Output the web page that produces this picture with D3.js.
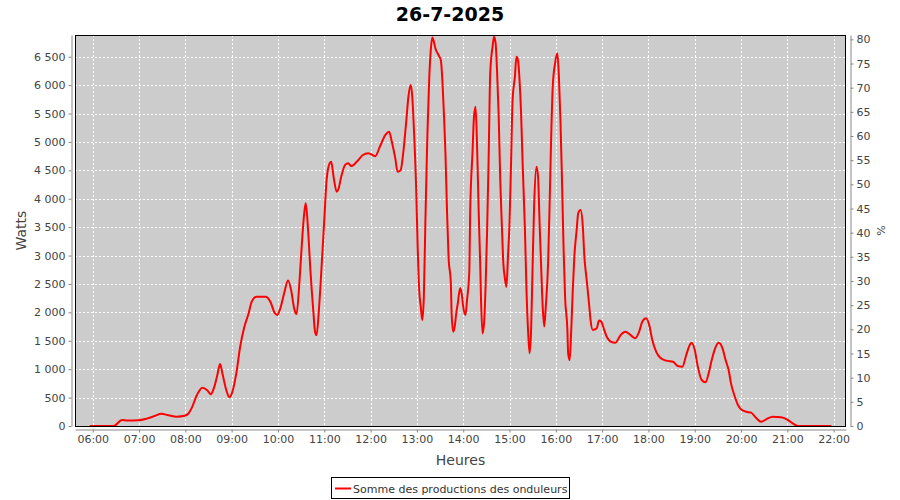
<!DOCTYPE html>
<html>
<head>
<meta charset="utf-8">
<script src="https://cdn.jsdelivr.net/npm/d3@7/dist/d3.min.js"></script>
<style>
  html, body { margin: 0; padding: 0; background: #fff; }
  svg { display: block; }
  .tick text { font-family: "DejaVu Sans", sans-serif; font-size: 11px; fill: #444; }
</style>
</head>
<body>
<svg id="chart" width="900" height="500"></svg>
<script>
// ---- Data ----
const title = "26-7-2025";
const seriesName = "Somme des productions des onduleurs";
const xTickLabels = ["06:00","07:00","08:00","09:00","10:00","11:00","12:00","13:00","14:00","15:00","16:00","17:00","18:00","19:00","20:00","21:00","22:00"];
const wattTicks = [0,500,1000,1500,2000,2500,3000,3500,4000,4500,5000,5500,6000,6500];
const pctTicks = [0,5,10,15,20,25,30,35,40,45,50,55,60,65,70,75,80];
const times = [
 "05:56","06:27","06:38","06:45","06:59","07:10","07:20","07:29","07:38","07:49","07:59",
 "08:04","08:08","08:15","08:22","08:28","08:33","08:36","08:41","08:45","08:48","08:53","08:57",
 "09:01","09:06","09:11","09:16","09:22","09:26","09:32","09:44","09:50","09:56","09:59",
 "10:03","10:08","10:13","10:17","10:21","10:24","10:28","10:31","10:34","10:36","10:39","10:42","10:46","10:48","10:50","10:53","10:57",
 "11:00","11:03","11:07","11:09","11:12","11:16","11:18","11:22","11:27","11:31","11:35","11:42","11:50","11:57",
 "12:06","12:12","12:19","12:24","12:27","12:32","12:35","12:39","12:42","12:46","12:49","12:52","12:54","12:56","12:59",
 "13:01","13:03","13:05","13:07","13:09","13:11","13:13","13:14","13:16","13:18","13:20","13:22","13:24","13:28","13:31","13:33","13:35","13:37","13:39","13:41","13:44","13:45","13:47","13:49","13:51","13:53","13:56","13:58",
 "14:00","14:03","14:05","14:08","14:09","14:12","14:14","14:16","14:18","14:20","14:22","14:23","14:25","14:27","14:29","14:31","14:33","14:35","14:38","14:40","14:42","14:44","14:46","14:48","14:50","14:52","14:54","14:56","14:58",
 "15:00","15:02","15:04","15:07","15:09","15:11","15:13","15:15","15:17","15:20","15:22","15:24","15:26","15:28","15:30","15:32","15:35","15:37","15:39","15:41","15:43","15:45","15:47","15:50","15:52","15:54","15:56","15:59",
 "16:02","16:04","16:06","16:08","16:10","16:12","16:15","16:16","16:18","16:20","16:22","16:24","16:27","16:29","16:32","16:35","16:37","16:40","16:43","16:45","16:48","16:53","16:56","16:59",
 "17:02","17:06","17:11","17:17","17:24","17:30","17:37","17:43","17:48","17:52","17:57",
 "18:01","18:05","18:10","18:15","18:23","18:32","18:38","18:44","18:49","18:53","18:56",
 "19:00","19:04","19:09","19:14","19:18","19:22","19:26","19:31","19:36","19:40","19:44","19:47","19:52","19:56",
 "20:00","20:07","20:13","20:20","20:26","20:33","20:41","20:52",
 "21:01","21:07","21:14","21:57"
];
const watts = [
 0,0,105,95,100,130,175,215,190,165,180,
 220,310,545,675,635,560,630,870,1090,925,635,505,
 605,925,1395,1720,1985,2190,2275,2275,2190,1985,1955,
 2070,2335,2560,2395,2070,1970,2570,3215,3745,3920,3450,2745,1985,1660,1600,2040,2920,
 3625,4330,4625,4650,4390,4125,4155,4390,4595,4625,4575,4650,4770,4800,
 4750,4915,5120,5180,5035,4710,4475,4505,4770,5330,5795,6000,5795,5270,4210,
 3155,2395,2100,1865,2275,3600,4800,5300,6120,6620,6840,6765,6645,6530,6440,6090,5505,4800,3800,2980,2510,1985,1660,1750,1985,2160,2425,2335,
 2100,1955,2220,2745,3745,4800,5445,5620,4915,3800,2865,2275,1630,1805,2450,3450,4740,6205,6675,6850,6735,6205,5445,4330,3565,2865,2600,2450,2980,
 3565,4625,5740,6150,6500,6440,6090,5505,4625,3450,2395,1690,1280,1690,2865,3920,4565,4390,3565,2805,2100,1750,2100,2865,3920,5090,5970,6380,
 6560,6150,5385,4330,3155,2275,1690,1280,1160,1690,2395,2980,3450,3745,3800,3510,2980,2570,2160,1865,1690,1720,1855,1835,
 1720,1570,1485,1465,1600,1660,1600,1545,1660,1835,1895,
 1780,1515,1310,1205,1150,1130,1055,1045,1250,1410,1465,
 1340,1045,810,770,925,1160,1350,1465,1365,1160,980,750,515,370,
 295,250,235,135,75,120,165,155,
 105,45,0,0
];

// ---- Layout ----
const svg = d3.select("#chart");
const plot = { left: 75, top: 35, right: 846, bottom: 426 };
const font = '"DejaVu Sans", sans-serif';
const parse = s => { const [h, m] = s.split(":").map(Number); return h * 60 + m; };

const x = d3.scaleLinear().domain([parse("05:37"), parse("22:16")]).range([plot.left, plot.right]);
const y = d3.scaleLinear().domain([0, 6882]).range([plot.bottom, plot.top]);
const yR = d3.scaleLinear().domain([0, 80.9]).range([plot.bottom, plot.top]);

svg.append("rect").attr("width", 900).attr("height", 500).attr("fill", "#fff");

// plot background
svg.append("rect")
  .attr("x", plot.left).attr("y", plot.top)
  .attr("width", plot.right - plot.left).attr("height", plot.bottom - plot.top)
  .attr("fill", "#cccccc");

// gridlines
const grid = svg.append("g").attr("stroke", "#fff").attr("stroke-width", 1).attr("stroke-dasharray", "2,2").attr("shape-rendering", "crispEdges");
grid.selectAll("line.v").data(xTickLabels).join("line")
  .attr("x1", d => Math.round(x(parse(d))) + 0.5).attr("x2", d => Math.round(x(parse(d))) + 0.5)
  .attr("y1", plot.top).attr("y2", plot.bottom);
grid.selectAll("line.h").data(wattTicks.filter(d => d > 0)).join("line")
  .attr("y1", d => Math.round(y(d)) + 0.5).attr("y2", d => Math.round(y(d)) + 0.5)
  .attr("x1", plot.left).attr("x2", plot.right);

// line
const data = times.map((t, i) => ({ t: parse(t), v: watts[i] }));
svg.append("path").datum(data)
  .attr("fill", "none").attr("stroke", "#ff0000").attr("stroke-width", 2)
  .attr("d", d3.line().x(d => x(d.t)).y(d => y(d.v)).curve(d3.curveMonotoneX));

// plot border
svg.append("rect")
  .attr("x", plot.left + 0.5).attr("y", plot.top + 0.5)
  .attr("width", plot.right - plot.left - 1).attr("height", plot.bottom - plot.top)
  .attr("fill", "none").attr("stroke", "#000").attr("stroke-width", 1);

// axes
const axisColor = "#888";
const gL = svg.append("g").attr("transform", "translate(71.5,0)")
  .call(d3.axisLeft(y).tickValues(wattTicks).tickSizeInner(3).tickSizeOuter(0).tickPadding(3)
    .tickFormat(d => d3.format(",")(d).replace(/,/g, "\u00a0")));
const gR = svg.append("g").attr("transform", "translate(850.5,0)")
  .call(d3.axisRight(yR).tickValues(pctTicks).tickSizeInner(3).tickSizeOuter(0).tickPadding(3));
const gB = svg.append("g").attr("transform", "translate(0,429.5)")
  .call(d3.axisBottom(x).tickValues(xTickLabels.map(parse)).tickSizeInner(3).tickSizeOuter(0).tickPadding(3)
    .tickFormat((d, i) => xTickLabels[i]));
[gL, gR, gB].forEach(g => {
  g.select(".domain").attr("stroke", axisColor);
  g.selectAll(".tick line").attr("stroke", axisColor);
  g.selectAll("text").attr("font-family", font).attr("font-size", 11).attr("fill", "#444");
});

// title
svg.append("text").attr("x", 450).attr("y", 21).attr("text-anchor", "middle")
  .attr("font-family", font).attr("font-size", 19).attr("font-weight", "bold").attr("fill", "#000")
  .text(title);

// axis labels
svg.append("text").attr("x", 460.5).attr("y", 465).attr("text-anchor", "middle")
  .attr("font-family", font).attr("font-size", 14).attr("fill", "#444").text("Heures");
svg.append("text").attr("transform", "translate(26,230.5) rotate(-90)").attr("text-anchor", "middle")
  .attr("font-family", font).attr("font-size", 14).attr("fill", "#444").text("Watts");
svg.append("text").attr("transform", "translate(885,230.5) rotate(-90)").attr("text-anchor", "middle")
  .attr("font-family", font).attr("font-size", 11).attr("fill", "#444").text("%");

// legend
const lg = svg.append("g");
lg.append("rect").attr("x", 331.5).attr("y", 477.5).attr("width", 238).attr("height", 21)
  .attr("fill", "#fff").attr("stroke", "#000");
lg.append("line").attr("x1", 335).attr("x2", 351).attr("y1", 488.5).attr("y2", 488.5)
  .attr("stroke", "#ff0000").attr("stroke-width", 2);
lg.append("text").attr("x", 353).attr("y", 492.5)
  .attr("font-family", font).attr("font-size", 11).attr("fill", "#333").text(seriesName);
</script>
</body>
</html>
